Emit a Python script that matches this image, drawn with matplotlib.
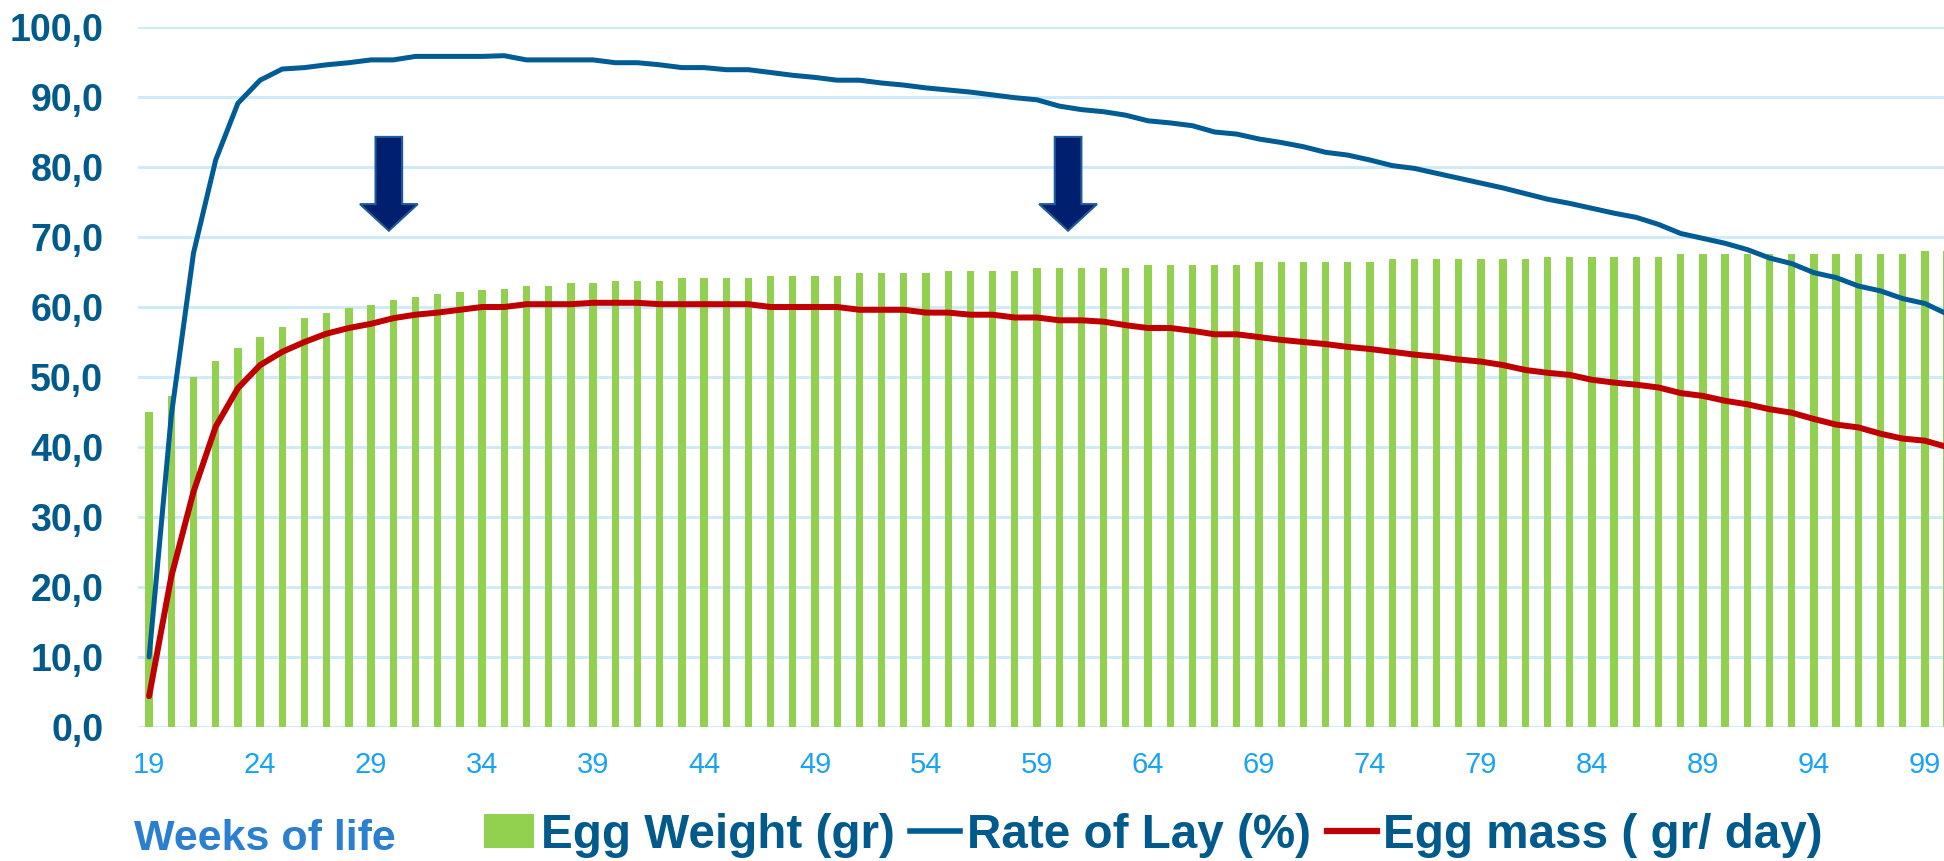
import numpy as np
import matplotlib
matplotlib.use("Agg")
import matplotlib.pyplot as plt
from matplotlib.patches import Polygon
from matplotlib.lines import Line2D
from matplotlib.ticker import FuncFormatter, MultipleLocator

plt.rcParams['font.family'] = ['Liberation Sans', 'DejaVu Sans']

# data
weeks = list(range(19, 101))
egg_weight = [
    45.0, 47.3, 50.0, 52.3, 54.2, 55.7, 57.2, 58.4, 59.1, 59.9,   # 19-28
    60.3, 61.0, 61.4, 61.8, 62.2, 62.5, 62.6, 63.0, 63.0, 63.4,   # 29-38
    63.4, 63.7, 63.7, 63.7, 64.1, 64.1, 64.1, 64.1, 64.5, 64.5,   # 39-48
    64.5, 64.5, 64.8, 64.8, 64.8, 64.8, 65.2, 65.2, 65.2, 65.2,   # 49-58
    65.6, 65.6, 65.6, 65.6, 65.6, 66.0, 66.0, 66.0, 66.0, 66.0,   # 59-68
    66.4, 66.4, 66.4, 66.4, 66.4, 66.4, 66.8, 66.8, 66.8, 66.8,   # 69-78
    66.8, 66.8, 66.8, 67.2, 67.2, 67.2, 67.2, 67.2, 67.2, 67.6,   # 79-88
    67.6, 67.6, 67.6, 67.6, 67.6, 67.6, 67.6, 67.6, 67.6, 67.6,   # 89-98
    68.0, 68.0,                                                   # 99-100
]
rate_of_lay = [
    10.0, 44.5, 67.7, 81.0, 89.1, 92.4, 94.0, 94.2, 94.6, 94.9,
    95.3, 95.3, 95.8, 95.8, 95.8, 95.8, 95.9, 95.3, 95.3, 95.3,
    95.3, 94.9, 94.9, 94.6, 94.2, 94.2, 93.9, 93.9, 93.5, 93.1,
    92.8, 92.4, 92.4, 92.0, 91.7, 91.3, 91.0, 90.7, 90.3, 89.9,
    89.6, 88.7, 88.2, 87.9, 87.4, 86.6, 86.3, 85.9, 85.0, 84.7,
    84.0, 83.5, 82.9, 82.1, 81.7, 81.0, 80.2, 79.8, 79.1, 78.4,
    77.7, 77.0, 76.2, 75.4, 74.8, 74.1, 73.4, 72.8, 71.8, 70.5,
    69.8, 69.1, 68.2, 67.0, 66.2, 64.9, 64.2, 63.0, 62.3, 61.2,
    60.5, 59.0,
]
egg_mass = [
    4.4, 21.5, 33.6, 42.9, 48.4, 51.7, 53.6, 55.0, 56.2, 57.0,
    57.6, 58.4, 58.9, 59.2, 59.6, 60.0, 60.0, 60.4, 60.4, 60.4,
    60.6, 60.6, 60.6, 60.4, 60.4, 60.4, 60.4, 60.4, 60.0, 60.0,
    60.0, 60.0, 59.6, 59.6, 59.6, 59.2, 59.2, 58.9, 58.9, 58.5,
    58.5, 58.1, 58.1, 57.9, 57.4, 57.0, 57.0, 56.6, 56.1, 56.1,
    55.7, 55.3, 55.0, 54.7, 54.3, 54.0, 53.6, 53.2, 52.9, 52.5,
    52.2, 51.7, 51.0, 50.6, 50.3, 49.6, 49.2, 48.9, 48.5, 47.7,
    47.3, 46.6, 46.1, 45.4, 44.9, 44.0, 43.2, 42.8, 41.9, 41.2,
    40.9, 40.0,
]
tick_weeks = list(range(19, 100, 5))
arrow_weeks = [29.8, 60.4]

GREEN = "#92D050"
BLUE = "#005C94"
RED = "#C00000"
GRID = "#CDE9FA"
TXT = "#005A8C"
XTXT = "#1AA3F5"
WEEKS_TXT = "#2B7FD0"

fig = plt.figure(figsize=(19.44, 8.61), dpi=100)
ax = fig.add_axes([138 / 1944, 1 - 727 / 861, 1 - 138 / 1944, 700 / 861])

bars = ax.bar(weeks, egg_weight, width=0.33, color=GREEN, zorder=2)
lay, = ax.plot(weeks, rate_of_lay, color=BLUE, lw=3.6, zorder=3,
               solid_joinstyle="round", solid_capstyle="round")
mass, = ax.plot(weeks, egg_mass, color=RED, lw=4.3, zorder=4,
                solid_joinstyle="round", solid_capstyle="round")

# the two down arrows
for w in arrow_weeks:
    pts = [(w - 0.6, 84.3), (w + 0.6, 84.3), (w + 0.6, 74.7), (w + 1.3, 74.7),
           (w, 70.9), (w - 1.3, 74.7), (w - 0.6, 74.7)]
    ax.add_patch(Polygon(pts, closed=True, facecolor="#001F6E",
                         edgecolor="#1F5C99", lw=1.5, zorder=5))

ax.set_xlim(18.5, 99.86)
ax.set_ylim(0, 100)
ax.yaxis.set_major_locator(MultipleLocator(10))
ax.yaxis.set_major_formatter(FuncFormatter(lambda v, p: f"{v:.1f}".replace(".", ",")))
ax.set_xticks(tick_weeks)
ax.set_xticklabels([str(w) for w in tick_weeks])
ax.grid(axis="y", color=GRID, lw=2, zorder=0)
ax.set_axisbelow(True)
for s in ax.spines.values():
    s.set_visible(False)
ax.tick_params(axis="both", length=0)
ax.tick_params(axis="y", pad=25, labelsize=27, labelcolor=TXT)
ax.tick_params(axis="x", pad=17, labelsize=21, labelcolor=XTXT)
for t in ax.get_yticklabels():
    t.set_fontweight("bold")

fig.text(134 / 1944, 1 - 850 / 861, "Weeks of life", color=WEEKS_TXT,
         fontsize=31, fontweight="bold", ha="left", va="baseline")

handles = [bars, Line2D([], [], color=BLUE, lw=4), Line2D([], [], color=RED, lw=4.5)]
labels = ["Egg Weight (gr)", "Rate of Lay (%)", "Egg mass ( gr/ day)"]
leg = fig.legend(handles, labels, ncol=3, loc="center left",
                 bbox_to_anchor=(484 / 1944, 1 - 835 / 861), frameon=False,
                 prop={"size": 34.3, "weight": "bold"}, handlelength=1.05,
                 handletextpad=0.14, columnspacing=0.33, borderpad=0,
                 borderaxespad=0)
for t in leg.get_texts():
    t.set_color(TXT)

fig.savefig("out.png", dpi=100)
